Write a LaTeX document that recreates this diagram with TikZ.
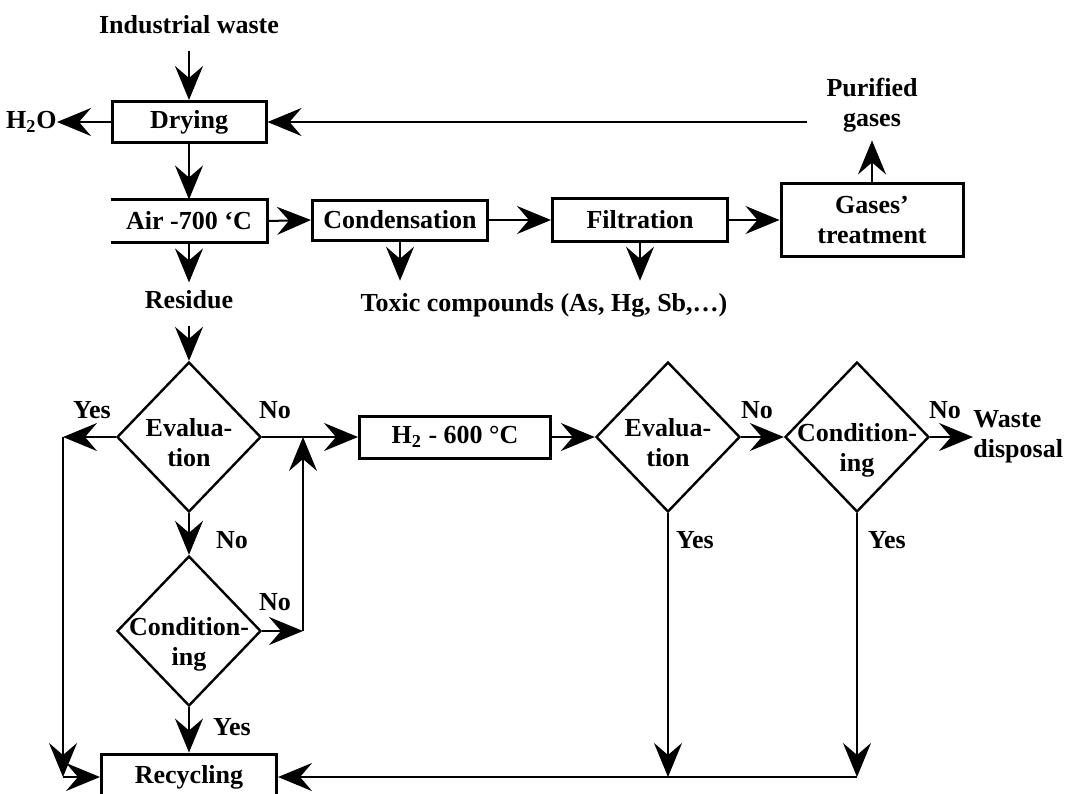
\documentclass[tikz,border=0pt]{standalone}
\usepackage{fontspec}
\setmainfont{Liberation Serif}
\usetikzlibrary{shapes.geometric,arrows.meta}
\begin{document}
\begin{tikzpicture}
[x=0.5pt,y=-0.5pt,
 font=\fontsize{13}{15}\selectfont\bfseries,
 >={Stealth[length=17pt,width=14pt,inset=6pt]},
 box/.style={rectangle,draw=black,line width=1.5pt,inner sep=0pt,align=center},
 decision/.style={diamond,draw=black,line width=1.2pt,inner sep=0pt,minimum width=72pt,minimum height=75pt},
 dtext/.style={align=center,inner sep=0pt},
 txt/.style={align=center,inner sep=0pt},
 flow/.style={->,line width=1pt},
 thinflow/.style={->,line width=0.7pt}]
\useasboundingbox (0,0) rectangle (1079,793);
\node[txt] (waste) at (189,25) {Industrial waste};
\node[box,minimum width=77pt,minimum height=20.5pt] (dry) at (189,122) {Drying};
\node[txt,anchor=east] (water) at (57,122) {H\textsubscript{2}O};
\node[txt] (puri) at (872,105) {Purified\\gases};
\coordinate (ret) at (807,122);
\node[box,draw=none,minimum width=77pt,minimum height=20pt] (air) at (189,221) {Air -700 ‘C};
\draw[line width=1.5pt] (air.north west) -- (air.north east) -- (air.south east) -- (air.south west);
\node[box,minimum width=87.5pt,minimum height=20pt] (cond) at (400,220) {Condensation};
\node[box,minimum width=87.5pt,minimum height=21.5pt] (filt) at (640,220) {Filtration};
\node[box,minimum width=91pt,minimum height=36.5pt] (gas) at (872,220) {Gases’\\treatment};
\node[txt] (toxic) at (544,305) {Toxic compounds (As, Hg, Sb,\dots)};
\node[txt] (resid) at (189,300) {Residue};
\node[decision,label={[dtext,yshift=-3pt]center:{Evalua-\\tion}}] (ev1) at (189,437) {};
\node[decision,label={[dtext,yshift=-6.5pt]center:{Condition-\\ing}}] (cd1) at (189,631) {};
\node[box,minimum width=95.5pt,minimum height=21pt] (htwo) at (455,437) {H\textsubscript{2} - 600 °C};
\node[decision,label={[dtext,yshift=-3pt]center:{Evalua-\\tion}}] (ev2) at (668,437) {};
\node[decision,label={[dtext,yshift=-6.5pt]center:{Condition-\\ing}}] (cd2) at (857,437) {};
\node[txt,anchor=west,align=left] (disp) at (973,437) {Waste\\disposal};
\node[box,minimum width=87.5pt,minimum height=23pt] (rec) at (189,777) {Recycling};
\coordinate (yesL) at (63,437);
\coordinate (cornL) at (63,777);
\coordinate (jup) at (303,437);
\coordinate (jlo) at (303,631);
\coordinate (ev2d) at (668,777);
\coordinate (cd2d) at (857,777);
\node[txt] (l1) at (92,410) {Yes};
\node[txt] (l2) at (275,410) {No};
\node[txt] (l3) at (232,540) {No};
\node[txt] (l4) at (275,602) {No};
\node[txt] (l5) at (232,727) {Yes};
\node[txt] (l6) at (757,410) {No};
\node[txt] (l7) at (945,410) {No};
\node[txt] (l8) at (695,540) {Yes};
\node[txt] (l9) at (887,540) {Yes};
\draw[flow] ([yshift=-8pt]waste.south) -- (dry.north);
\draw[flow] (dry.west) -- (water.east);
\draw[flow] (ret) -- (dry.east);
\draw[flow] (dry.south) -- (air.north);
\draw[flow] (air.east) -- (cond.west);
\draw[flow] (cond.east) -- (filt.west);
\draw[flow] (filt.east) -- (gas.west);
\draw[flow] (gas.north) -- ([yshift=-4pt]puri.south);
\draw[flow] (cond.south) -- ([yshift=6pt]cond.south|-toxic.north);
\draw[flow] (filt.south) -- ([yshift=6pt]filt.south|-toxic.north);
\draw[flow] (air.south) -- ([yshift=4pt]resid.north);
\draw[flow] ([yshift=-8pt]resid.south) -- (ev1.north);
\draw[flow] (ev1.west) -- (yesL);
\draw[thinflow] (yesL) -- (cornL);
\draw[flow] (cornL) -- (rec.west);
\draw[flow] (ev1.east) -- (htwo.west);
\draw[flow] (ev1.south) -- (cd1.north);
\draw[flow] (cd1.east) -- (jlo);
\draw[thinflow] (jlo) -- (jup);
\draw[flow] (cd1.south) -- (rec.north);
\draw[flow] (htwo.east) -- (ev2.west);
\draw[flow] (ev2.east) -- (cd2.west);
\draw[flow] (cd2.east) -- (disp.west);
\draw[thinflow] (ev2.south) -- (ev2d);
\draw[thinflow] (cd2.south) -- (cd2d);
\draw[flow] (cd2d) -- (rec.east);
\end{tikzpicture}
\end{document}
